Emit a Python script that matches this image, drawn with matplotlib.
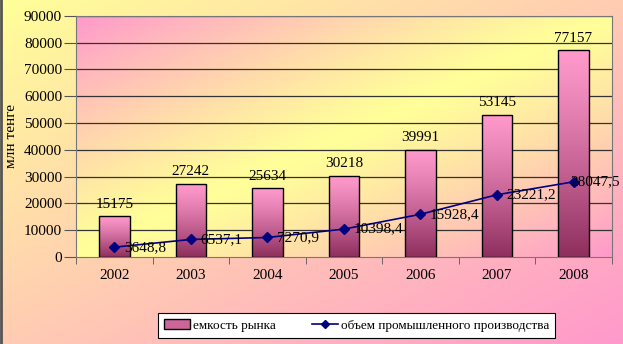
import numpy as np
import matplotlib
matplotlib.use("Agg")
import matplotlib.pyplot as plt
from matplotlib.patches import Patch
from matplotlib.lines import Line2D
from matplotlib.colors import to_rgb

years = ["2002", "2003", "2004", "2005", "2006", "2007", "2008"]
market = [15175, 27242, 25634, 30218, 39991, 53145, 77157]
production = [3648.8, 6537.1, 7270.9, 10398.4, 15928.4, 23221.2, 28047.5]

plt.rcParams["font.family"] = ["Liberation Serif", "DejaVu Serif"]

yellow = np.array(to_rgb("#FFFF99"))
pink = np.array(to_rgb("#FF99CC"))
bar_top = np.array(to_rgb("#FF99CC"))
bar_bottom = np.array(to_rgb("#8E2F5E"))


def blend(c0, c1, t):
    return c0[None, None, :] * (1 - t[..., None]) + c1[None, None, :] * t[..., None]


fig = plt.figure(figsize=(6.23, 3.44), dpi=100)

# page background: yellow top-left to pink bottom-right
bg = fig.add_axes([0, 0, 1, 1], zorder=-10)
u, v = np.meshgrid(np.linspace(0, 1, 200), np.linspace(0, 1, 200))
bg.imshow(blend(yellow, pink, (u + v) / 2), extent=[0, 1, 0, 1], aspect="auto")
bg.set_xlim(0, 1)
bg.set_ylim(0, 1)
bg.set_axis_off()
bg.axvline(0.002, color="#555555", lw=2)

ax = fig.add_axes([0.122, 0.253, 0.860, 0.701])
x = np.arange(len(years))

# plot area: pink in the top-left and bottom-right corners, yellow across the middle
ax.imshow(blend(yellow, pink, np.abs(u + v - 1) ** 1.2), extent=[-0.5, 6.5, 0, 90000],
          aspect="auto", zorder=0)

for y in range(10000, 90001, 10000):
    ax.axhline(y, color="#333333", lw=0.9, zorder=1)

bars = ax.bar(x, market, width=0.4, color="none", edgecolor="black", lw=1.0, zorder=3)
grad = np.linspace(0, 1, 100)[:, None] ** 1.2
grad_img = blend(bar_top, bar_bottom, np.repeat(grad, 2, axis=1))
for rect in bars:
    x0 = rect.get_x()
    im = ax.imshow(grad_img, extent=[x0, x0 + rect.get_width(), 0, rect.get_height()],
                   aspect="auto", zorder=2)
    im.set_clip_path(rect)

for xi, val in zip(x, market):
    ax.annotate(str(val), (xi, val), xytext=(0, 4), textcoords="offset points",
                ha="center", va="bottom", fontsize=11, zorder=5)

ax.plot(x, production, color="#000080", lw=1.2, marker="D", markersize=5, zorder=4)
for i, (xi, val) in enumerate(zip(x, production)):
    dx = -2 if i == len(x) - 1 else 7
    ax.annotate(f"{val:.1f}".replace(".", ","), (xi, val), xytext=(dx, 0),
                textcoords="offset points", ha="left", va="center", fontsize=11, zorder=5)

ax.set_xlim(-0.5, 6.5)
ax.set_ylim(0, 90000)
ax.set_yticks(range(0, 90001, 10000))
ax.tick_params(axis="y", labelsize=11, length=9, color="#555555", pad=1)
ax.set_xticks(x)
ax.set_xticklabels(years)
ax.set_xticks(np.arange(-0.5, 7, 1), minor=True)
ax.tick_params(axis="x", which="major", length=0, labelsize=11, pad=9)
ax.tick_params(axis="x", which="minor", length=5, color="#555555")
for s in ax.spines.values():
    s.set_color("#777777")
ax.set_ylabel("млн тенге", fontsize=11, labelpad=4)

handles = [Patch(facecolor="#CC6699", edgecolor="black"),
           Line2D([], [], color="#000080", marker="D", markersize=4, lw=1.2)]
leg = fig.legend(handles, ["емкость рынка", "объем промышленного производства"],
                 loc="center", bbox_to_anchor=(158 / 623, 1 - 340 / 344, 397 / 623, 29 / 344),
                 mode="expand", ncol=2, fontsize=9.5, frameon=True, fancybox=False,
                 edgecolor="black", framealpha=1, borderpad=0.45, handlelength=2.0,
                 handletextpad=0.2, borderaxespad=0)
leg.get_frame().set_linewidth(0.8)

fig.savefig("out.png", dpi=100)
